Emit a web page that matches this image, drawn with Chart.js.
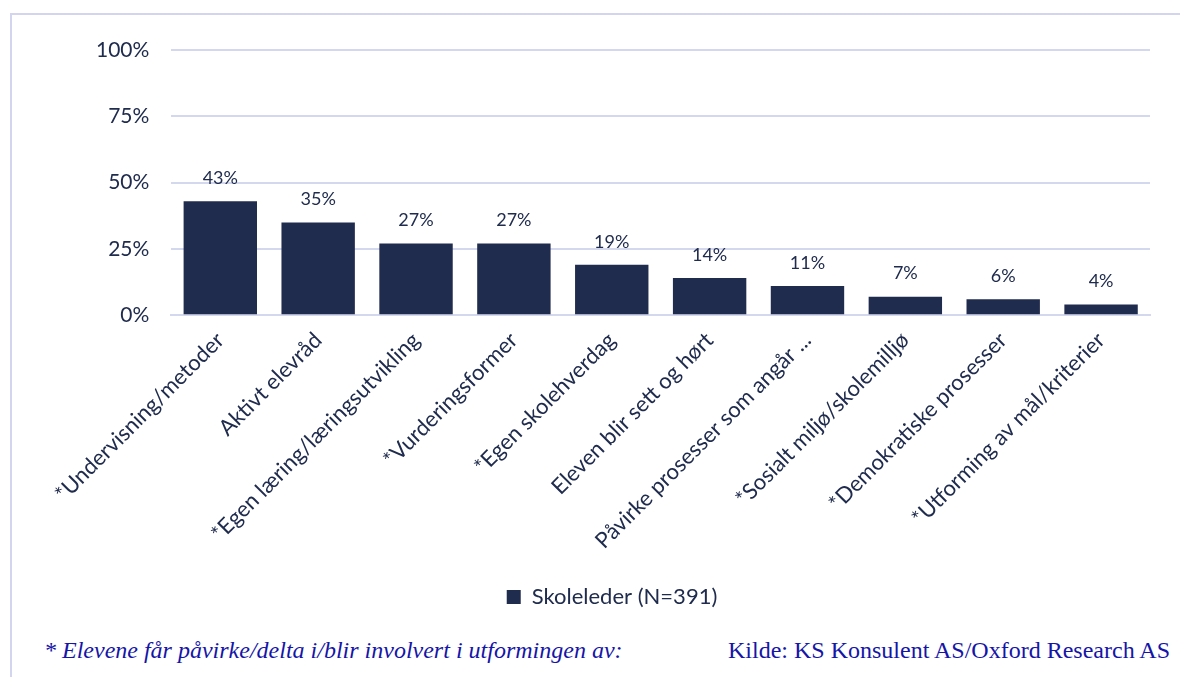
<!DOCTYPE html>
<html>
<head>
<meta charset="utf-8">
<script src="https://cdn.jsdelivr.net/npm/chart.js@4/dist/chart.umd.min.js"></script>
<style>
  body { margin: 0; background: #fff; width: 1180px; height: 677px; overflow: hidden; position: relative; }
  #frame { position: absolute; left: 10px; top: 13px; width: 1200px; height: 700px; border-left: 2px solid #d3d5ee; border-top: 2px solid #d3d5ee; }
  #wrap { position: absolute; left: 12px; top: 15px; width: 1168px; height: 603px; }
  .note { position: absolute; font-family: "Liberation Serif", "Times New Roman", serif; font-size: 24px; color: #1515a8; white-space: nowrap; }
  #fn { left: 44px; top: 637px; font-style: italic; }
  #src { right: 10px; top: 637px; }
</style>
</head>
<body>
<div id="frame"></div>
<div id="wrap"><canvas id="chart"></canvas></div>
<div class="note" id="fn">* Elevene får påvirke/delta i/blir involvert i utformingen av:</div>
<div class="note" id="src">Kilde: KS Konsulent AS/Oxford Research AS</div>
<script>
// Data
const categories = [
  "*Undervisning/metoder",
  "Aktivt elevråd",
  "*Egen læring/læringsutvikling",
  "*Vurderingsformer",
  "*Egen skolehverdag",
  "Eleven blir sett og hørt",
  "Påvirke prosesser som angår ...",
  "*Sosialt miljø/skolemilljø",
  "*Demokratiske prosesser",
  "*Utforming av mål/kriterier"
];
const skoleleder = [43, 35, 27, 27, 19, 14, 11, 7, 6, 4];
const seriesName = "Skoleleder (N=391)";
const yTicks = [0, 25, 50, 75, 100];

const navy = "#202c4e";
const fontFamily = "Lato, 'Open Sans', sans-serif";

// draw value labels above bars
const valueLabels = {
  id: "valueLabels",
  afterDatasetsDraw(chart) {
    const ctx = chart.ctx;
    const meta = chart.getDatasetMeta(0);
    ctx.save();
    ctx.font = "18px " + fontFamily;
    ctx.fillStyle = navy;
    ctx.textAlign = "center";
    ctx.textBaseline = "bottom";
    meta.data.forEach((bar, i) => {
      ctx.fillText(skoleleder[i] + "%", bar.x, bar.y - 14);
    });
    ctx.restore();
  }
};

const canvas = document.getElementById("chart");
new Chart(canvas.getContext("2d"), {
  type: "bar",
  data: {
    labels: categories,
    datasets: [{
      label: seriesName,
      data: skoleleder,
      backgroundColor: navy,
      categoryPercentage: 0.75,
      barPercentage: 1.0
    }]
  },
  options: {
    responsive: true,
    maintainAspectRatio: false,
    animation: false,
    layout: { padding: { top: 35, right: 30, left: 62, bottom: 0 } },
    plugins: {
      tooltip: { enabled: false },
      legend: {
        position: "bottom",
        labels: {
          boxWidth: 14,
          boxHeight: 14,
          padding: 28,
          color: navy,
          font: { family: fontFamily, size: 22 }
        }
      }
    },
    scales: {
      x: {
        grid: { display: false },
        border: { color: "#d3d8ee", width: 2 },
        afterFit(scale) { scale.paddingLeft = 0; scale.paddingRight = 0; },
        ticks: {
          color: navy,
          maxRotation: 45,
          minRotation: 45,
          padding: 4,
          autoSkip: false,
          font: { family: fontFamily, size: 22 }
        }
      },
      y: {
        min: 0,
        max: 100,
        afterBuildTicks(axis) { axis.ticks = yTicks.map(v => ({ value: v })); },
        grid: { color: "#d3d8ee", lineWidth: 2, drawTicks: false },
        border: { display: false },
        ticks: {
          color: navy,
          padding: 22,
          font: { family: fontFamily, size: 21 },
          callback: v => v + "%"
        }
      }
    }
  },
  plugins: [valueLabels]
});
</script>
</body>
</html>
